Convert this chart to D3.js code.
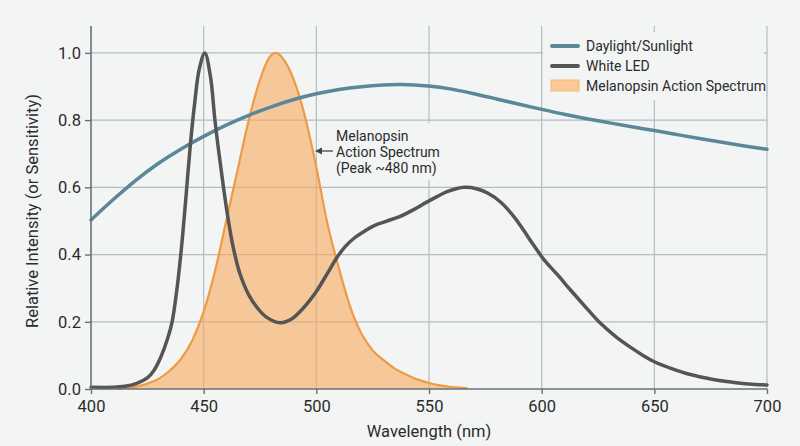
<!DOCTYPE html>
<html><head><meta charset="utf-8">
<script src="https://cdn.jsdelivr.net/npm/d3@7"></script>
<style>
html,body{margin:0;padding:0;background:#f3f5f5;}
svg{display:block;font-family:Roboto,"Noto Sans",sans-serif;}
</style></head>
<body>
<svg id="chart" width="800" height="446"></svg>
<script>
const xTicks = [400,450,500,550,600,650,700];
const yTicks = [0,0.2,0.4,0.6,0.8,1.0];
const seriesNames = ["Daylight/Sunlight","White LED","Melanopsin Action Spectrum"];

const daylightWl = [400,410,420,430,440,450,460,470,480,490,500,510,520,530,537,550,560,570,580,590,600,610,620,630,640,650,660,670,680,690,700];
const daylightVal = [0.503,0.565,0.623,0.673,0.715,0.752,0.786,0.815,0.84,0.862,0.879,0.892,0.9,0.905,0.907,0.902,0.893,0.879,0.863,0.847,0.832,0.817,0.804,0.792,0.78,0.769,0.757,0.745,0.734,0.723,0.713];

const ledWl = [400,410,415,420,425,428,431,434,436,438,440,442,444,446,448,450.5,453,455,457,459,461,463,466,470,474,478,484,489,493,497,500,505,509,513,517,521,525,531,537,543,549,554,558,562,566,571,576,582,588,592,596,601,607,613,620,626,633,639,645,650,658,666,675,684,692,700];
const ledVal = [0.005,0.005,0.008,0.016,0.033,0.056,0.095,0.15,0.2,0.29,0.41,0.56,0.72,0.85,0.95,1.0,0.93,0.8,0.69,0.59,0.5,0.425,0.345,0.28,0.24,0.213,0.197,0.208,0.232,0.263,0.29,0.345,0.39,0.425,0.45,0.468,0.484,0.499,0.513,0.533,0.556,0.574,0.587,0.596,0.6,0.596,0.583,0.555,0.51,0.472,0.432,0.385,0.34,0.293,0.24,0.196,0.155,0.126,0.1,0.081,0.06,0.043,0.03,0.021,0.015,0.012];

const melWl = [412,415,420,425,430,435,440,445,450,455,460,465,470,475,479,482,485,490,495,500,505,510,515,520,525,530,535,540,545,550,555,560,567];
const melVal = [0,0.003,0.007,0.016,0.03,0.055,0.09,0.145,0.23,0.35,0.5,0.65,0.8,0.92,0.985,1.0,0.985,0.92,0.81,0.66,0.49,0.36,0.245,0.165,0.115,0.085,0.06,0.043,0.028,0.018,0.011,0.006,0.003];

const annotationLines = ["Melanopsin","Action Spectrum","(Peak ~480 nm)"];

const svg = d3.select("#chart");
const x = d3.scaleLinear().domain([400,700]).range([91,767]);
const y = d3.scaleLinear().domain([0,1.08]).range([389,26]);
const curve = d3.curveCatmullRom.alpha(0.5);

const gridColor = "#b3bcc3";
const axisColor = "#6a7075";
const textColor = "#2b2b2b";

// gridlines
svg.append("g").selectAll("line.h").data(yTicks.filter(d=>d>0)).join("line")
  .attr("x1",x(400)).attr("x2",x(700)).attr("y1",d=>y(d)).attr("y2",d=>y(d))
  .attr("stroke",gridColor).attr("stroke-width",1.2);
svg.append("g").selectAll("line.v").data(xTicks.filter(d=>d>400)).join("line")
  .attr("x1",d=>x(d)).attr("x2",d=>x(d)).attr("y1",y(1.08)).attr("y2",y(0))
  .attr("stroke",gridColor).attr("stroke-width",1.2);

// boxes hiding grid behind legend and annotation
svg.append("rect").attr("x",543).attr("y",32).attr("width",221).attr("height",68).attr("fill","#f3f5f5");
svg.append("rect").attr("x",331).attr("y",123).attr("width",116).attr("height",57).attr("fill","#f3f5f5");

// melanopsin area
const melData = melWl.map((w,i)=>[w,melVal[i]]);
svg.append("path").datum(melData)
  .attr("d", d3.area().x(d=>x(d[0])).y0(y(0)).y1(d=>y(d[1])).curve(d3.curveMonotoneX))
  .attr("fill","#f9a95c").attr("fill-opacity",0.6);
svg.append("path").datum(melData)
  .attr("d", d3.line().x(d=>x(d[0])).y(d=>y(d[1])).curve(d3.curveMonotoneX))
  .attr("fill","none").attr("stroke","#ee9b45").attr("stroke-width",2.2);

// daylight
svg.append("path").datum(daylightWl.map((w,i)=>[w,daylightVal[i]]))
  .attr("d", d3.line().x(d=>x(d[0])).y(d=>y(d[1])).curve(d3.curveBasis))
  .attr("fill","none").attr("stroke","#5a8898").attr("stroke-width",3.5).attr("stroke-linecap","round");

// LED
svg.append("path").datum(ledWl.map((w,i)=>[w,ledVal[i]]))
  .attr("d", d3.line().x(d=>x(d[0])).y(d=>y(d[1])).curve(curve))
  .attr("fill","none").attr("stroke","#555555").attr("stroke-width",3.5).attr("stroke-linecap","round").attr("stroke-linejoin","round");

// axes
const xAxis = svg.append("g").attr("transform",`translate(0,${y(0)})`)
  .call(d3.axisBottom(x).tickValues(xTicks).tickFormat(d3.format("d")).tickSize(5).tickPadding(6).tickSizeOuter(0));
const yAxis = svg.append("g").attr("transform",`translate(${x(400)},0)`)
  .call(d3.axisLeft(y).tickValues(yTicks).tickFormat(d3.format(".1f")).tickSize(6).tickPadding(4).tickSizeOuter(0));
[xAxis,yAxis].forEach(a=>{
  a.select(".domain").attr("stroke",axisColor).attr("stroke-width",1.6);
  a.selectAll(".tick line").attr("stroke",axisColor).attr("stroke-width",1.4);
  a.selectAll(".tick text").attr("fill",textColor).attr("font-size",16.5).attr("font-family","Roboto");
});
xAxis.select(".domain").attr("d",`M${x(400)},0H${x(700)}`);
yAxis.select(".domain").attr("d",`M0,${y(0)}V${y(1.08)}`);

// axis labels
svg.append("text").attr("x",429).attr("y",437).attr("text-anchor","middle")
  .attr("font-size",16.5).attr("fill",textColor).text("Wavelength (nm)");
svg.append("text").attr("transform","translate(38,211) rotate(-90)").attr("text-anchor","middle")
  .attr("font-size",16.5).attr("fill",textColor).text("Relative Intensity (or Sensitivity)");

// legend
const lg = svg.append("g");
const legY = [46,66,86];
lg.append("line").attr("x1",552).attr("x2",578).attr("y1",legY[0]).attr("y2",legY[0]).attr("stroke","#5a8898").attr("stroke-width",4).attr("stroke-linecap","round");
lg.append("line").attr("x1",552).attr("x2",578).attr("y1",legY[1]).attr("y2",legY[1]).attr("stroke","#555555").attr("stroke-width",4).attr("stroke-linecap","round");
lg.append("rect").attr("x",551).attr("y",80).attr("width",28).attr("height",11).attr("fill","#fbc896").attr("stroke","#f5b778").attr("stroke-width",1);
lg.selectAll("text").data(seriesNames).join("text")
  .attr("x",586).attr("y",(d,i)=>legY[i]+5).attr("font-size",14).attr("fill",textColor).text(d=>d);

// annotation
svg.append("g").selectAll("text").data(annotationLines).join("text")
  .attr("x",336).attr("y",(d,i)=>136+i*16+5).attr("font-size",14).attr("fill",textColor).text(d=>d);
svg.append("line").attr("x1",333).attr("x2",320).attr("y1",151).attr("y2",151).attr("stroke","#444").attr("stroke-width",1.3);
svg.append("path").attr("d","M315,151 L322,147.5 L322,154.5 Z").attr("fill","#444");
</script>
</body></html>
